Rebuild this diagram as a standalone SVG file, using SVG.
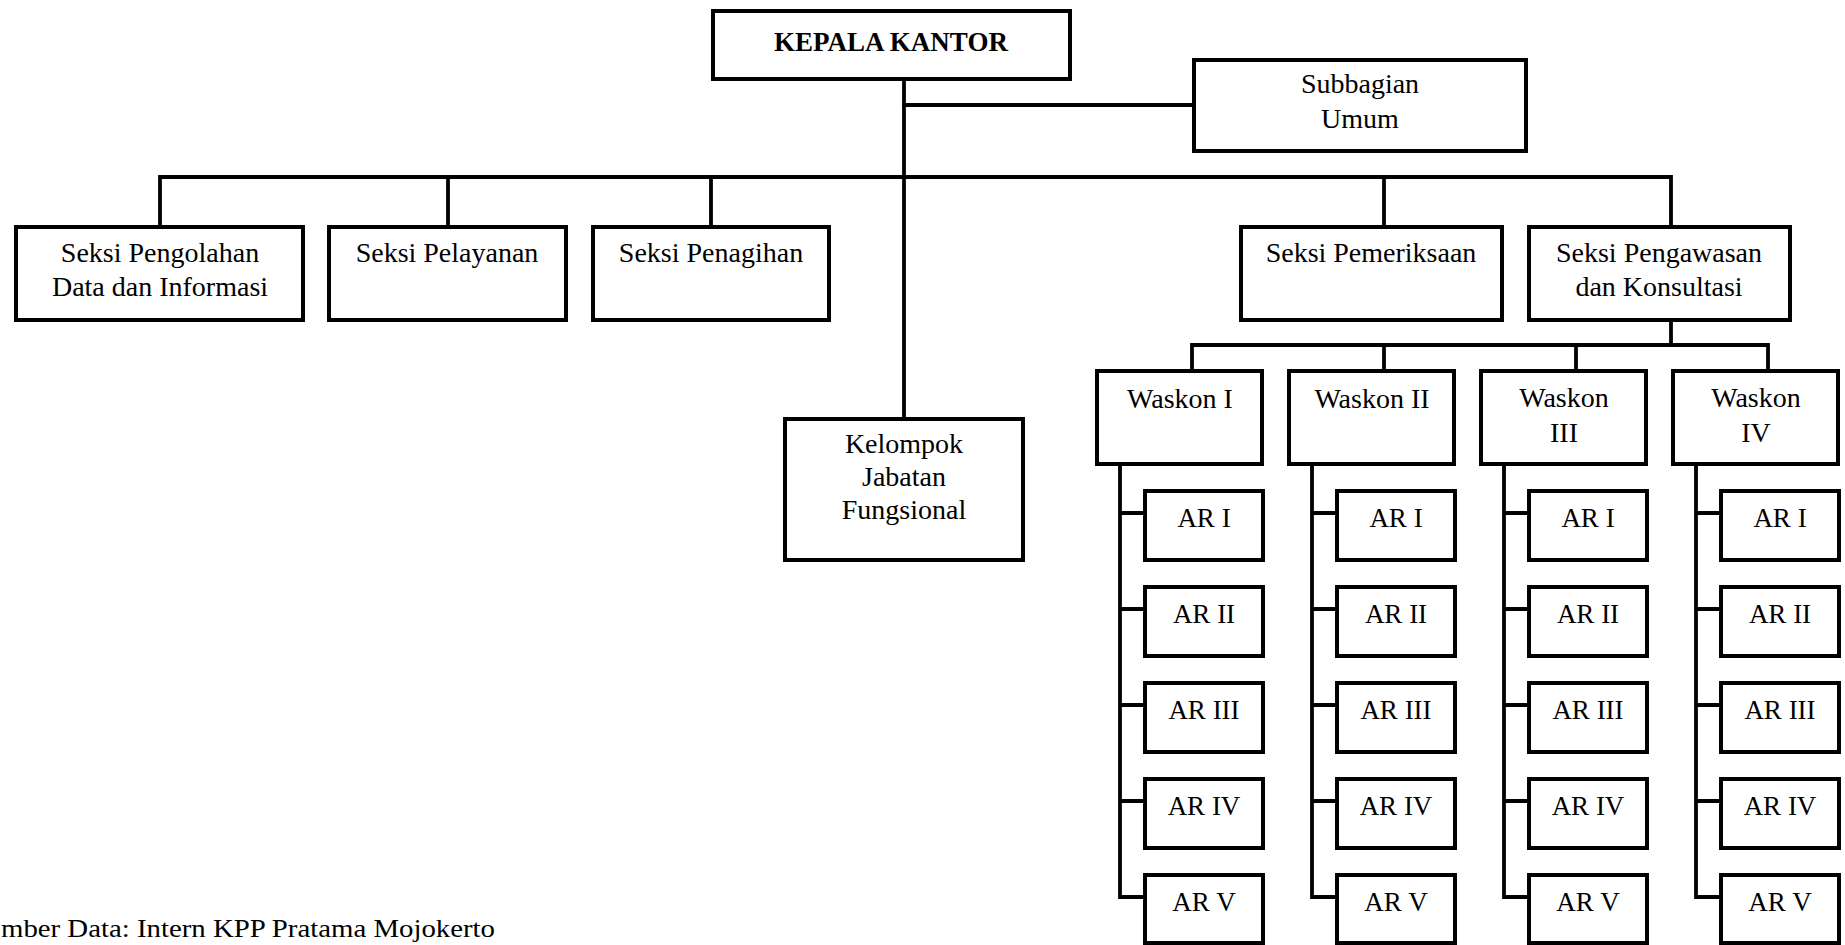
<svg xmlns="http://www.w3.org/2000/svg" width="1845" height="945" viewBox="0 0 1845 945">
<style>
.box{fill:#fff;stroke:#000;stroke-width:4}
.ln{fill:none;stroke:#000;stroke-width:3.8;stroke-linejoin:miter;stroke-linecap:square}
text{font-family:"Liberation Serif","DejaVu Serif",serif;font-size:28px;fill:#000;text-anchor:middle}
.b{font-weight:bold;font-size:27px}
.ar{font-size:27px}
</style>
<rect width="1845" height="945" fill="#fff"/>
<g id="connectors">
<path class="ln" d="M904,81 V417"/>
<path class="ln" d="M904,105 H1192"/>
<path class="ln" d="M160,225 V177 H1671 V225"/>
<path class="ln" d="M448,177 V225 M711,177 V225 M1384,177 V225"/>
<path class="ln" d="M1671,322 V345"/>
<path class="ln" d="M1192,369 V345 H1768 V369"/>
<path class="ln" d="M1384,345 V369 M1576,345 V369"/>
<path class="ln" d="M1120,466 V897 H1143 M1120,513 H1143 M1120,609 H1143 M1120,705 H1143 M1120,801 H1143"/>
<path class="ln" d="M1312,466 V897 H1335 M1312,513 H1335 M1312,609 H1335 M1312,705 H1335 M1312,801 H1335"/>
<path class="ln" d="M1504,466 V897 H1527 M1504,513 H1527 M1504,609 H1527 M1504,705 H1527 M1504,801 H1527"/>
<path class="ln" d="M1696,466 V897 H1719 M1696,513 H1719 M1696,609 H1719 M1696,705 H1719 M1696,801 H1719"/>
</g>
<g id="kepala"><rect class="box" x="713" y="11" width="357" height="68"/><text class="b" x="891" y="51">KEPALA KANTOR</text></g>
<g id="subbagian"><rect class="box" x="1194" y="60" width="332" height="91"/><text x="1360" y="93">Subbagian</text><text x="1360" y="128">Umum</text></g>
<g id="pengolahan"><rect class="box" x="16" y="227" width="287" height="93"/><text x="160" y="262">Seksi Pengolahan</text><text x="160" y="296">Data dan Informasi</text></g>
<g id="pelayanan"><rect class="box" x="329" y="227" width="237" height="93"/><text x="447" y="262">Seksi Pelayanan</text></g>
<g id="penagihan"><rect class="box" x="593" y="227" width="236" height="93"/><text x="711" y="262">Seksi Penagihan</text></g>
<g id="pemeriksaan"><rect class="box" x="1241" y="227" width="261" height="93"/><text x="1371" y="262">Seksi Pemeriksaan</text></g>
<g id="pengawasan"><rect class="box" x="1529" y="227" width="261" height="93"/><text x="1659" y="262">Seksi Pengawasan</text><text x="1659" y="296">dan Konsultasi</text></g>
<g id="kelompok"><rect class="box" x="785" y="419" width="238" height="141"/><text x="904" y="453">Kelompok</text><text x="904" y="486">Jabatan</text><text x="904" y="519">Fungsional</text></g>
<g id="waskon1"><rect class="box" x="1097" y="371" width="165" height="93"/><text x="1180" y="408">Waskon I</text></g>
<g id="waskon2"><rect class="box" x="1289" y="371" width="165" height="93"/><text x="1372" y="408">Waskon II</text></g>
<g id="waskon3"><rect class="box" x="1481" y="371" width="165" height="93"/><text x="1564" y="407">Waskon</text><text x="1564" y="442">III</text></g>
<g id="waskon4"><rect class="box" x="1673" y="371" width="165" height="93"/><text x="1756" y="407">Waskon</text><text x="1756" y="442">IV</text></g>
<g id="ar-col1">
<rect class="box" x="1145" y="491" width="118" height="69"/><text class="ar" x="1204" y="527">AR I</text>
<rect class="box" x="1145" y="587" width="118" height="69"/><text class="ar" x="1204" y="623">AR II</text>
<rect class="box" x="1145" y="683" width="118" height="69"/><text class="ar" x="1204" y="719">AR III</text>
<rect class="box" x="1145" y="779" width="118" height="69"/><text class="ar" x="1204" y="815">AR IV</text>
<rect class="box" x="1145" y="875" width="118" height="68"/><text class="ar" x="1204" y="911">AR V</text>
</g>
<g id="ar-col2">
<rect class="box" x="1337" y="491" width="118" height="69"/><text class="ar" x="1396" y="527">AR I</text>
<rect class="box" x="1337" y="587" width="118" height="69"/><text class="ar" x="1396" y="623">AR II</text>
<rect class="box" x="1337" y="683" width="118" height="69"/><text class="ar" x="1396" y="719">AR III</text>
<rect class="box" x="1337" y="779" width="118" height="69"/><text class="ar" x="1396" y="815">AR IV</text>
<rect class="box" x="1337" y="875" width="118" height="68"/><text class="ar" x="1396" y="911">AR V</text>
</g>
<g id="ar-col3">
<rect class="box" x="1529" y="491" width="118" height="69"/><text class="ar" x="1588" y="527">AR I</text>
<rect class="box" x="1529" y="587" width="118" height="69"/><text class="ar" x="1588" y="623">AR II</text>
<rect class="box" x="1529" y="683" width="118" height="69"/><text class="ar" x="1588" y="719">AR III</text>
<rect class="box" x="1529" y="779" width="118" height="69"/><text class="ar" x="1588" y="815">AR IV</text>
<rect class="box" x="1529" y="875" width="118" height="68"/><text class="ar" x="1588" y="911">AR V</text>
</g>
<g id="ar-col4">
<rect class="box" x="1721" y="491" width="118" height="69"/><text class="ar" x="1780" y="527">AR I</text>
<rect class="box" x="1721" y="587" width="118" height="69"/><text class="ar" x="1780" y="623">AR II</text>
<rect class="box" x="1721" y="683" width="118" height="69"/><text class="ar" x="1780" y="719">AR III</text>
<rect class="box" x="1721" y="779" width="118" height="69"/><text class="ar" x="1780" y="815">AR IV</text>
<rect class="box" x="1721" y="875" width="118" height="68"/><text class="ar" x="1780" y="911">AR V</text>
</g>
<text x="1" y="937" style="text-anchor:start;font-size:25px" textLength="494" lengthAdjust="spacingAndGlyphs">mber Data: Intern KPP Pratama Mojokerto</text>
</svg>
